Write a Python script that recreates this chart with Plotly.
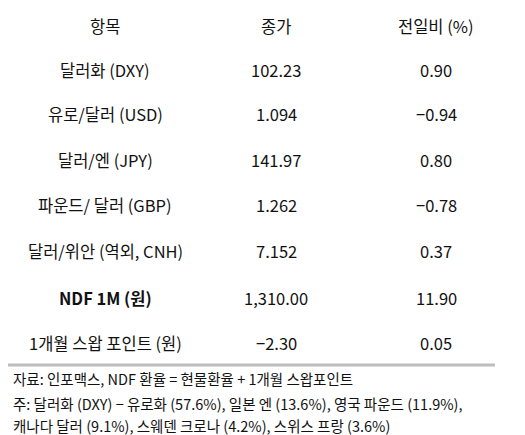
import plotly.graph_objects as go

headers = ["항목", "종가", "전일비 (%)"]
items = ["달러화 (DXY)", "유로/달러 (USD)", "달러/엔 (JPY)", "파운드/ 달러 (GBP)", "달러/위안 (역외, CNH)", "NDF 1M (원)", "1개월 스왑 포인트 (원)"]
closes = ["102.23", "1.094", "141.97", "1.262", "7.152", "1,310.00", "−2.30"]
changes = ["0.90", "−0.94", "0.80", "−0.78", "0.37", "11.90", "0.05"]
notes = ["자료: 인포맥스, NDF 환율 = 현물환율 + 1개월 스왑포인트",
         "주: 달러화 (DXY) − 유로화 (57.6%), 일본 엔 (13.6%), 영국 파운드 (11.9%),",
         "캐나다 달러 (9.1%), 스웨덴 크로나 (4.2%), 스위스 프랑 (3.6%)"]

W, H = 525, 435
F = "Noto Sans CJK KR"
fig = go.Figure()
def px(x): return x / W
def py(y): return 1 - y / H
anns = []
colx = [97, 268, 428]
rowy = [18, 62, 106, 152, 197, 243, 290, 335]
for i, h in enumerate(headers):
    anns.append(dict(x=px(colx[i]), y=py(rowy[0]), text=h))
for r in range(len(items)):
    bold = items[r].startswith("NDF")
    for c, v in enumerate([items[r], closes[r], changes[r]]):
        anns.append(dict(x=px(colx[c]), y=py(rowy[r+1]), text=f"<b>{v}</b>" if (bold and c == 0) else v))
for a in anns:
    a.update(xref="paper", yref="paper", showarrow=False, xanchor="center", yanchor="middle",
             font=dict(family=F, size=16.5, color="#111"))
for i, n in enumerate(notes):
    anns.append(dict(x=px(3), y=py([370, 395, 417][i]), text=n, xref="paper", yref="paper",
                     showarrow=False, xanchor="left", yanchor="middle",
                     font=dict(family=F, size=14.5, color="#111")))
fig.add_shape(type="line", xref="paper", yref="paper", x0=0, x1=px(487), y0=py(357), y1=py(357),
              line=dict(color="#bdbdbd", width=3))
fig.update_layout(width=W, height=H, margin=dict(l=0, r=0, t=0, b=0), annotations=anns,
                  paper_bgcolor="white", plot_bgcolor="white",
                  xaxis=dict(visible=False), yaxis=dict(visible=False))
fig.write_html("out.html")
